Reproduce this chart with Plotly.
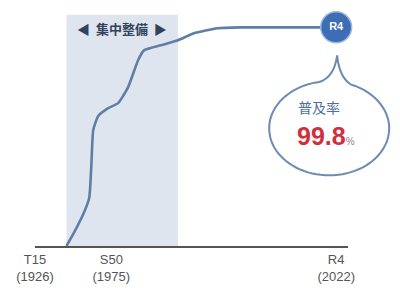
import numpy as np
import plotly.graph_objects as go

# --- data (timeline is schematic / not to scale in the source) ---
timeline_pos = [9.6, 12.8, 15.3, 16.9, 17.6, 18.2, 19.8, 23.0, 26.2, 29.4, 32.6, 34.5,
                39.9, 45.4, 50.5, 58.1, 65.5, 96.2]
rate = [0, 8.2, 15.5, 21.9, 36.9, 52.9, 59.3, 62.9, 65.2, 72.5, 84.8, 89.3,
        91.6, 93.9, 97.1, 99.4, 99.8, 99.8]

tick_pos = [-0.5, 24, 96.2]
tick_text = ["T15<br>(1926)", "S50<br>(1975)", "R4<br>(2022)"]

period_start = 9.6
period_end = 45.4
period_label = "◀  集中整備  ▶"
end_label = "R4"
rate_title = "普及率"
rate_value = "99.8"

X_RANGE = [-0.5, 100]
Y_RANGE = [0, 110]

fig = go.Figure()

# shaded intensive-development period
fig.add_shape(type="rect", xref="x", yref="y", x0=period_start, x1=period_end,
              y0=0, y1=105.5, fillcolor="#dfe5ee", line_width=0, layer="below")

fig.add_trace(go.Scatter(
    x=timeline_pos, y=rate, mode="lines",
    line=dict(color="#5f7ea6", width=2.6, shape="spline", smoothing=0.5),
    hoverinfo="skip", showlegend=False, cliponaxis=False))

fig.add_trace(go.Scatter(
    x=[timeline_pos[-1]], y=[rate[-1]], mode="markers+text",
    marker=dict(size=31, color="#3d6db5", line=dict(color="#9fb8dd", width=1.5)),
    text=[f"<b>{end_label}</b>"], textposition="middle center",
    textfont=dict(color="white", size=11, family="Liberation Sans"),
    hoverinfo="skip", showlegend=False, cliponaxis=False))

# speech bubble anchored to the end point (pixel offsets, y up)
cx, cy, rx, ry = -7, -101, 60, 47
lb = (-17, cy + ry * np.sqrt(1 - ((-17 - cx) / rx) ** 2))
rb = (15, cy + ry * np.sqrt(1 - ((15 - cx) / rx) ** 2))
a1 = np.arctan2((rb[1] - cy) / ry, (rb[0] - cx) / rx)
a2 = np.arctan2((lb[1] - cy) / ry, (lb[0] - cx) / rx) - 2 * np.pi
angs = np.linspace(a1, a2, 80)
path = f"M{lb[0]:.1f},{lb[1]:.1f} Q-2,-50 1,-28 Q3,-50 {rb[0]:.1f},{rb[1]:.1f}"
for a in angs[1:]:
    path += f" L{cx + rx*np.cos(a):.1f},{cy + ry*np.sin(a):.1f}"
path += " Z"
ax_frac = (timeline_pos[-1] - X_RANGE[0]) / (X_RANGE[1] - X_RANGE[0])
ay_frac = (rate[-1] - Y_RANGE[0]) / (Y_RANGE[1] - Y_RANGE[0])
fig.add_shape(type="path", path=path, xsizemode="pixel", ysizemode="pixel",
              xanchor=ax_frac, yanchor=ay_frac, xref="paper", yref="paper",
              fillcolor="white", line=dict(color="#6d8bb0", width=2))

fig.add_annotation(x=timeline_pos[-1], y=rate[-1], xref="x", yref="y",
                   text=rate_title, showarrow=False, xshift=-17, yshift=-80,
                   font=dict(color="#4f6fa0", size=14, family="Noto Sans CJK JP"))
fig.add_annotation(x=timeline_pos[-1], y=rate[-1], xref="x", yref="y",
                   text=f"<b>{rate_value}</b><span style='font-size:10px;color:#888'>%</span>",
                   showarrow=False, xshift=-10, yshift=-109,
                   font=dict(color="#d0303c", size=25, family="Liberation Sans"))

fig.add_annotation(x=(period_start + period_end) / 2, y=99.5, xref="x", yref="y",
                   text=f"<b>{period_label}</b>", showarrow=False,
                   font=dict(color="#34425e", size=13, family="Noto Sans CJK JP"))

fig.update_xaxes(range=X_RANGE, tickvals=tick_pos, ticktext=tick_text,
                 showgrid=False, zeroline=False, showline=True,
                 linecolor="#555555", linewidth=2, ticks="",
                 tickfont=dict(size=13, color="#555555", family="Liberation Sans"))
fig.update_yaxes(range=Y_RANGE, visible=False, showgrid=False, zeroline=False)

fig.update_layout(width=400, height=291, margin=dict(l=35, r=52, t=5, b=45),
                  paper_bgcolor="white", plot_bgcolor="white", showlegend=False)

fig.write_html("out.html", config={"displayModeBar": False},
               post_script="document.body.style.margin='0';")
